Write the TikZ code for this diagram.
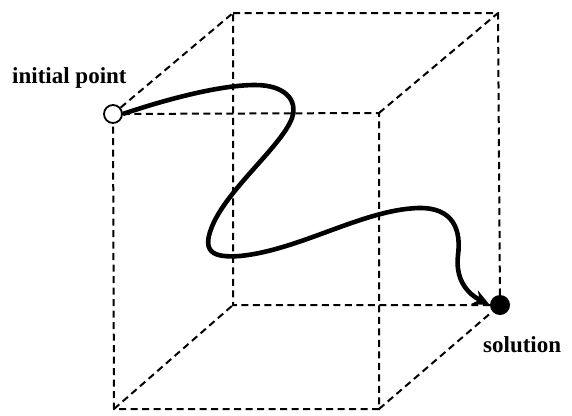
\documentclass[tikz,border=0pt]{standalone}
\usepackage{fontspec}
\setmainfont{Liberation Serif}
\usetikzlibrary{arrows.meta,positioning}

\begin{document}
\begin{tikzpicture}[x=1pt,y=-1pt,
   edge/.style={dash pattern=on 7pt off 4.5pt,line width=2pt},
   lbl/.style={font=\fontsize{23}{26}\selectfont\bfseries,inner sep=0pt}]
  \useasboundingbox (0,0) rectangle (572,415);
  % ---------- corners of the box ----------
  \node[circle,draw,fill=white,line width=1.8pt,minimum size=18pt,inner sep=0pt] (init) at (113,114) {};
  \node[circle,fill=black,minimum size=20pt,inner sep=0pt] (sol) at (500,305) {};
  \coordinate (f2) at (379,113);
  \coordinate (f3) at (379,409);
  \coordinate (f4) at (114,409);
  \coordinate (b1) at (233,13);
  \coordinate (b2) at (498,13);
  \coordinate (b4) at (233,305);
  % front and back faces
  \draw[edge] (init)--(f2)--(f3)--(f4)--(init);
  \draw[edge] (b1)--(b2)--(sol)--(b4)--(b1);
  % edges joining them
  \draw[edge] (init)--(b1);
  \draw[edge] (f2)--(b2);
  \draw[edge] (f3)--(sol);
  \draw[edge] (f4)--(b4);
  % ---------- the path ----------
  \draw[line width=4.6pt,-{Stealth[length=17pt,width=15pt]}]
    (init.east) .. controls (170,98) and (222,85) .. (255,85)
    .. controls (285,85) and (298,100) .. (292,118)
    .. controls (282,145) and (232,185) .. (214,222)
    .. controls (200,252) and (212,258) .. (240,256)
    .. controls (300,250) and (362,210) .. (418,208)
    .. controls (455,207) and (461,232) .. (458,255)
    .. controls (455,280) and (468,294) .. (sol.west);
  % ---------- labels ----------
  \node[lbl,anchor=base west] (initlbl) at (12,83) {initial point};
  \node[lbl,anchor=base west] (sollbl) at (483,352) {solution};
\end{tikzpicture}
\end{document}
